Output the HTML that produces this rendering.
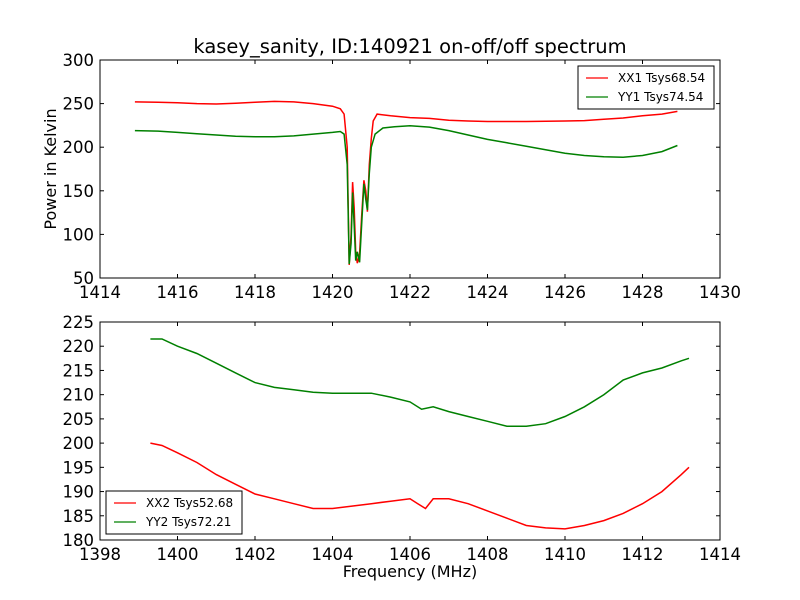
<!DOCTYPE html>
<html><head><meta charset="utf-8"><style>body{margin:0;background:#fff}svg{display:block;font-family:"DejaVu Sans","Liberation Sans",sans-serif}</style></head>
<body>
<svg id="chart" width="800" height="600" xmlns="http://www.w3.org/2000/svg">
<rect width="800" height="600" fill="#fff"/>
<text x="410" y="53" text-anchor="middle" font-size="19.5">kasey_sanity, ID:140921 on-off/off spectrum</text>
<g id="top"></g>
<g id="bot"></g>
<text x="56" y="169" text-anchor="middle" font-size="16" transform="rotate(-90 56 169)">Power in Kelvin</text>
<text x="410" y="577" text-anchor="middle" font-size="16">Frequency (MHz)</text>
</svg>
<script>
const topXTicks=[1414,1416,1418,1420,1422,1424,1426,1428,1430];
const topYTicks=[50,100,150,200,250,300];
const botXTicks=[1398,1400,1402,1404,1406,1408,1410,1412,1414];
const botYTicks=[180,185,190,195,200,205,210,215,220,225];
const xx1Freq=[1414.9,1415.5,1416,1416.5,1417,1417.5,1418,1418.5,1419,1419.5,1420,1420.2,1420.3,1420.38,1420.43,1420.48,1420.52,1420.56,1420.6,1420.64,1420.7,1420.75,1420.81,1420.86,1420.9,1420.95,1421,1421.05,1421.15,1421.5,1422,1422.5,1423,1423.5,1424,1425,1426,1426.5,1427,1427.5,1428,1428.5,1428.9];
const xx1Vals=[252,251.5,251,250,249.5,250.5,251.5,252.5,252,250,247,244,238,200,65,100,160,130,80,67,78,120,162,150,126,180,210,230,238,236,234,233,231,230,229.5,229.5,230,230.5,232,233.5,236,238,241];
const yy1Freq=[1414.9,1415.5,1416,1416.5,1417,1417.5,1418,1418.5,1419,1419.5,1420,1420.2,1420.3,1420.38,1420.43,1420.48,1420.52,1420.56,1420.6,1420.64,1420.7,1420.75,1420.81,1420.86,1420.9,1420.95,1421,1421.1,1421.3,1421.6,1422,1422.5,1423,1423.5,1424,1424.5,1425,1425.5,1426,1426.5,1427,1427.5,1428,1428.5,1428.9];
const yy1Vals=[219,218.5,217,215.5,214,212.5,212,212,213,215,217,218,215,180,66,90,148,110,70,80,68,110,158,140,128,170,200,215,222,223.5,224.5,223,219,214,209,205,201,197,193,190.5,189,188.5,190.5,195,202];
const xx2Freq=[1399.3,1399.6,1400,1400.5,1401,1401.5,1402,1402.5,1403,1403.5,1404,1404.5,1405,1405.5,1406,1406.2,1406.4,1406.6,1407,1407.5,1408,1408.5,1409,1409.5,1410,1410.5,1411,1411.5,1412,1412.5,1413,1413.2];
const xx2Vals=[200,199.5,198,196,193.5,191.5,189.5,188.5,187.5,186.5,186.5,187,187.5,188,188.5,187.5,186.5,188.5,188.5,187.5,186,184.5,183,182.5,182.3,183,184,185.5,187.5,190,193.5,195];
const yy2Freq=[1399.3,1399.6,1400,1400.5,1401,1401.5,1402,1402.5,1403,1403.5,1404,1404.5,1405,1405.5,1406,1406.3,1406.6,1407,1407.5,1408,1408.5,1409,1409.5,1410,1410.5,1411,1411.5,1412,1412.5,1413,1413.2];
const yy2Vals=[221.5,221.5,220,218.5,216.5,214.5,212.5,211.5,211,210.5,210.3,210.3,210.3,209.5,208.5,207,207.5,206.5,205.5,204.5,203.5,203.5,204,205.5,207.5,210,213,214.5,215.5,217,217.5];

const NS='http://www.w3.org/2000/svg';
function mk(p,t,a){const e=document.createElementNS(NS,t);for(const k in a)e.setAttribute(k,a[k]);p.appendChild(e);return e;}
function panel(g,x0,x1,y0,y1,xmin,xmax,ymin,ymax,xt,yt,series,leg){
  const sx=v=>x0+(v-xmin)/(xmax-xmin)*(x1-x0);
  const sy=v=>y1-(v-ymin)/(ymax-ymin)*(y1-y0);
  series.forEach(s=>{
    const pts=s.f.map((f,i)=>sx(f).toFixed(1)+','+sy(s.v[i]).toFixed(1)).join(' ');
    const l=mk(g,'polyline',{points:pts,fill:'none',stroke:s.c,'stroke-width':1.5});
    
    
  });
  const fr=mk(g,'rect',{x:x0,y:y0,width:x1-x0,height:y1-y0,fill:'none',stroke:'#000','stroke-width':1});
  
  
  xt.forEach(t=>{const x=sx(t);
    mk(g,'line',{x1:x,x2:x,y1:y1,y2:y1-4,stroke:'#000'});mk(g,'line',{x1:x,x2:x,y1:y0,y2:y0+4,stroke:'#000'});
    const tx=mk(g,'text',{x:x,y:y1+20,'text-anchor':'middle','font-size':16.5});tx.textContent=t;
    
    });
  yt.forEach(t=>{const y=sy(t);
    mk(g,'line',{x1:x0,x2:x0+4,y1:y,y2:y,stroke:'#000'});mk(g,'line',{x1:x1,x2:x1-4,y1:y,y2:y,stroke:'#000'});
    const tx=mk(g,'text',{x:x0-6,y:y+6,'text-anchor':'end','font-size':16.5});tx.textContent=t;
    
    });
  const lg=mk(g,'g',{});
  
  
  mk(lg,'rect',{x:leg.x,y:leg.y,width:136,height:43,fill:'#fff',stroke:'#000'});
  series.forEach((s,i)=>{const yy=leg.y+12+i*19;
    mk(lg,'line',{x1:leg.x+8,x2:leg.x+30,y1:yy,y2:yy,stroke:s.c,'stroke-width':1.3});
    const tx=mk(lg,'text',{x:leg.x+40,y:yy+4,'font-size':12});tx.textContent=s.label;
    
    });
}
panel(document.getElementById('top'),100,720,60,278,1414,1430,50,300,topXTicks,topYTicks,
 [{f:xx1Freq,v:xx1Vals,c:'#ff0000',n:'xx1-line',label:'XX1 Tsys68.54'},{f:yy1Freq,v:yy1Vals,c:'#008000',n:'yy1-line',label:'YY1 Tsys74.54'}],{x:578,y:66});
panel(document.getElementById('bot'),100,720,322,540,1398,1414,180,225,botXTicks,botYTicks,
 [{f:xx2Freq,v:xx2Vals,c:'#ff0000',n:'xx2-line',label:'XX2 Tsys52.68'},{f:yy2Freq,v:yy2Vals,c:'#008000',n:'yy2-line',label:'YY2 Tsys72.21'}],{x:106,y:491});
</script>
</body></html>
